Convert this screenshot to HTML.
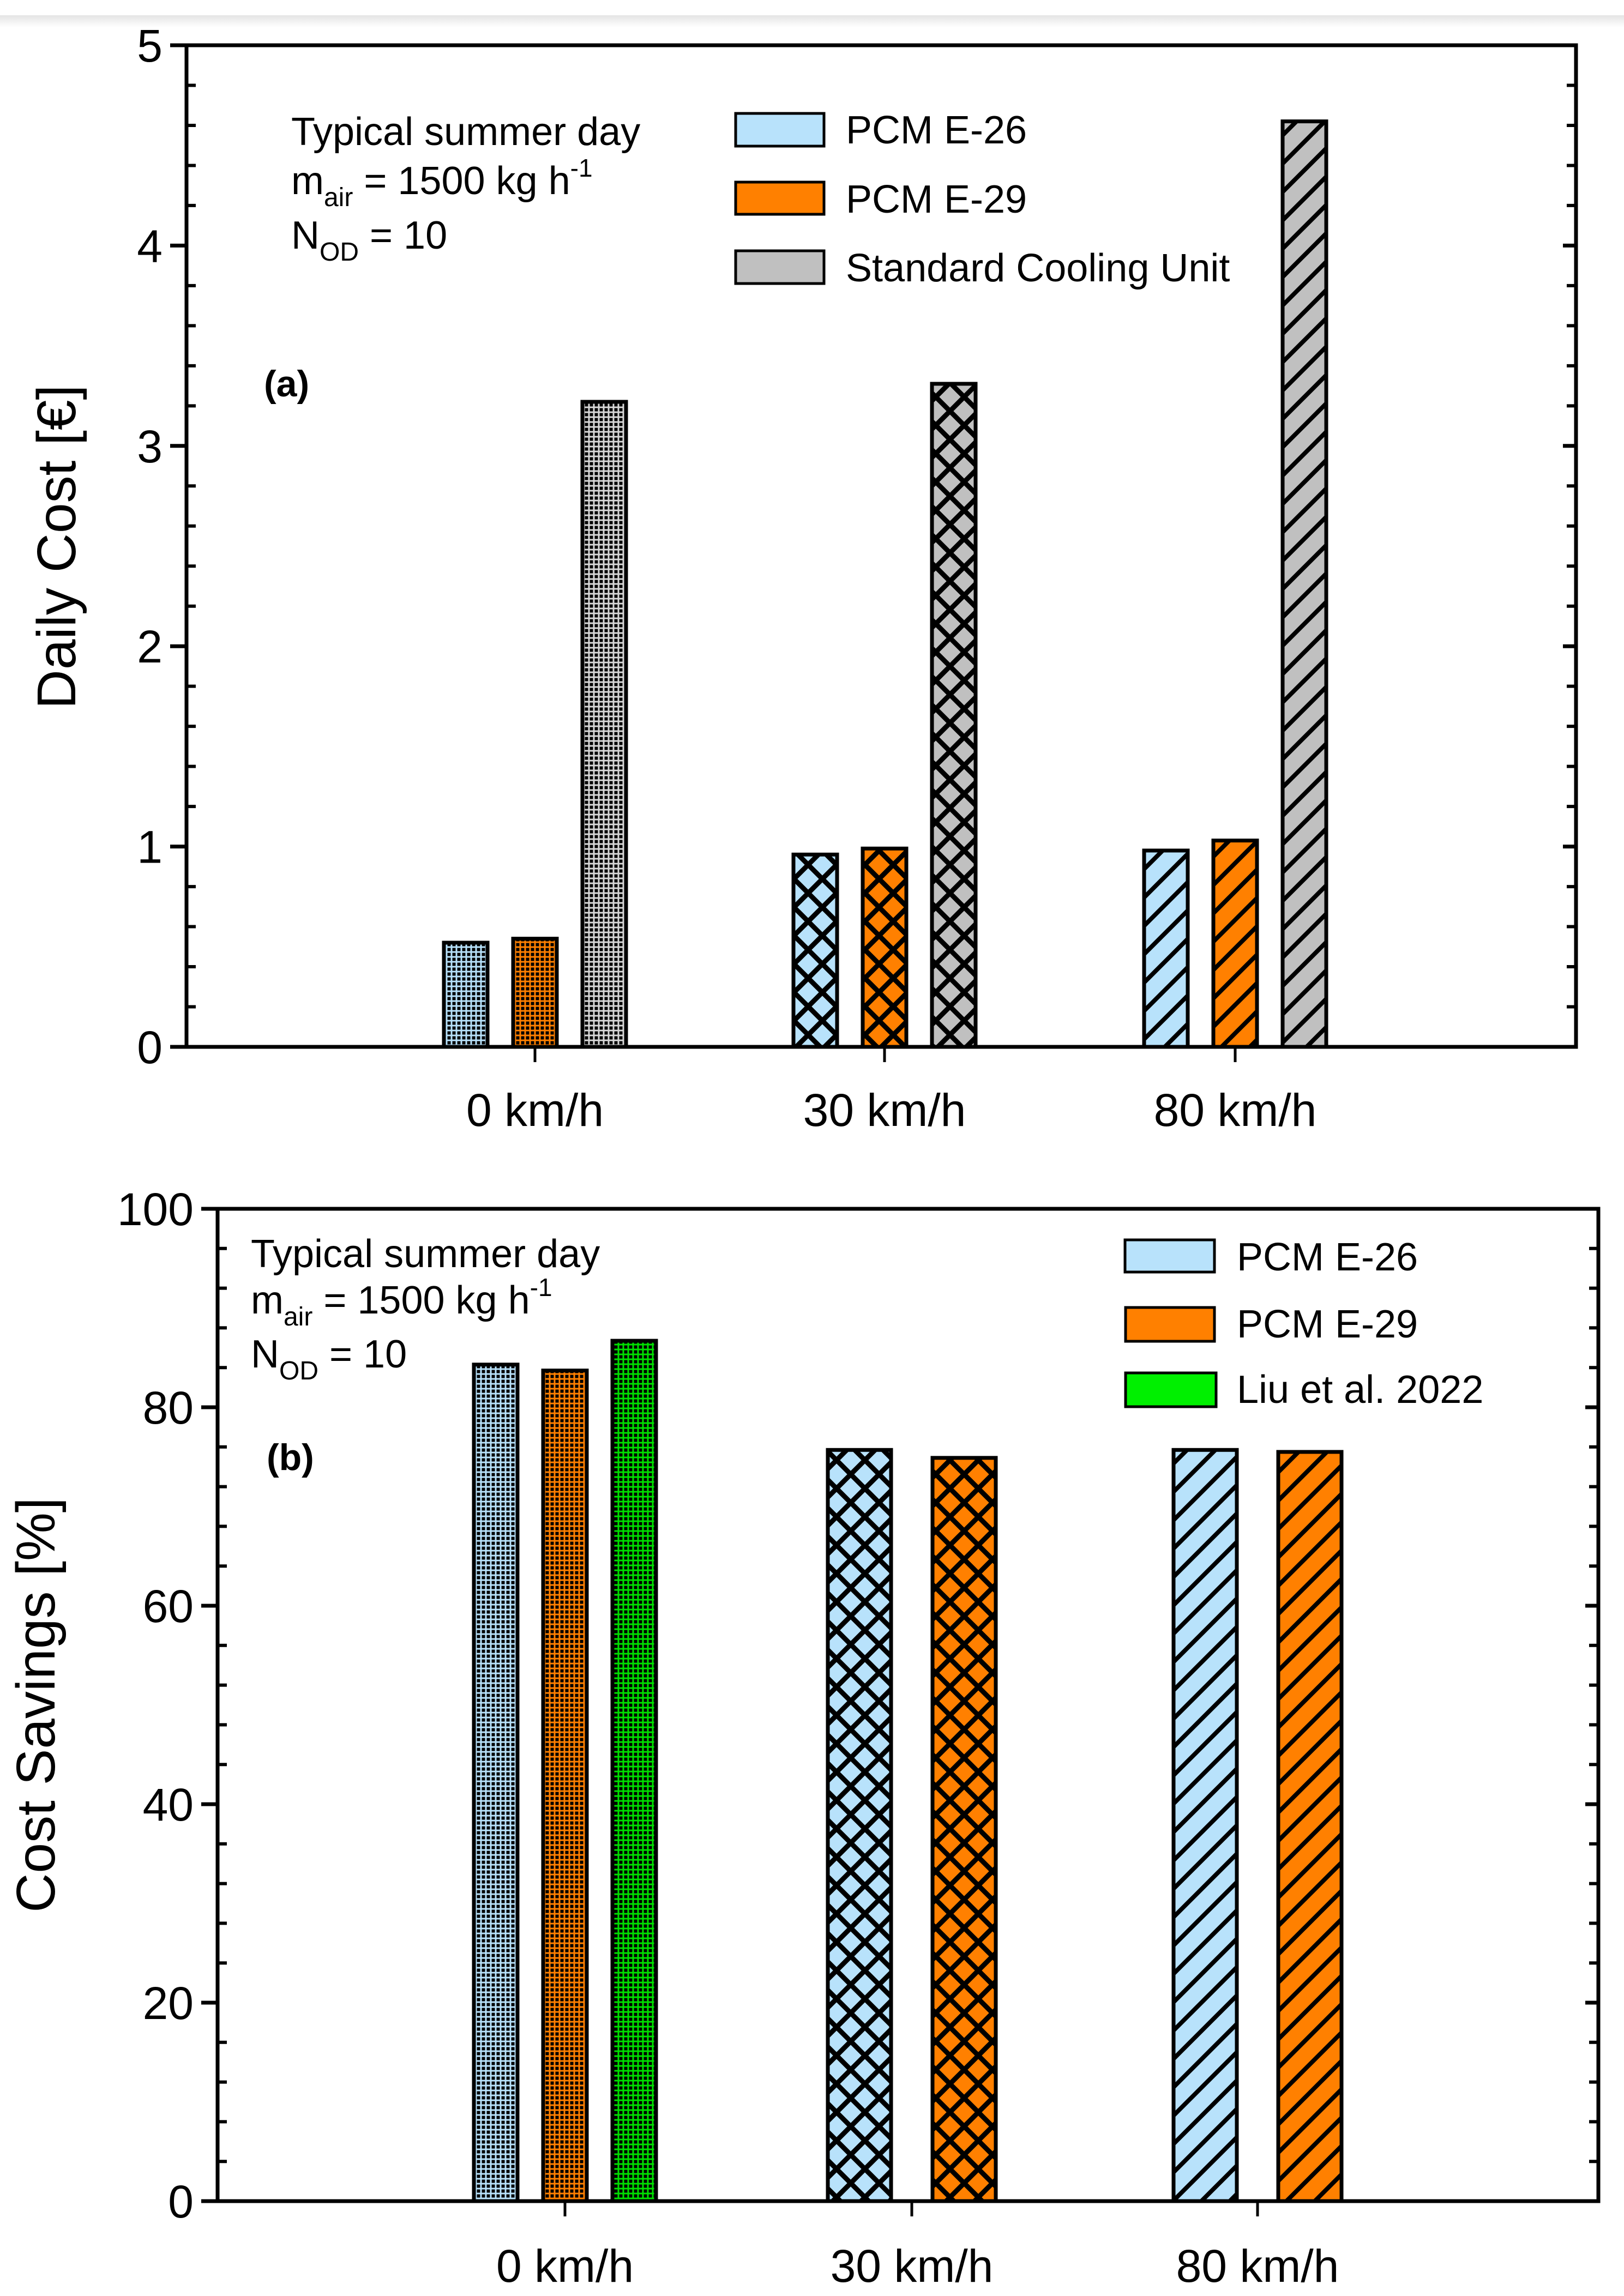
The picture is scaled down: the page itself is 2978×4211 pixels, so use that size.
<!DOCTYPE html>
<html><head><meta charset="utf-8">
<style>
html,body{margin:0;padding:0;background:#fff;}
#wrap{position:relative;width:2978px;height:4211px;overflow:hidden;background:#fff;}
#shade{position:absolute;left:0;top:28px;width:2978px;height:22px;background:linear-gradient(#e4e4e4,#fff);}
svg{position:absolute;left:0;top:0;}
text{font-family:"Liberation Sans",Arial,sans-serif;fill:#000;}
</style></head>
<body>
<div id="wrap">
<div id="shade"></div>
<svg id="fig" width="2978" height="4211" viewBox="0 0 2978 4211">
<defs>
<pattern id="dots-blue" width="9" height="9" patternUnits="userSpaceOnUse"><rect width="9" height="9" fill="#b8e2fb"/><rect x="1.5" y="1.5" width="6" height="6" fill="#000"/></pattern>
<pattern id="dots-orange" width="9" height="9" patternUnits="userSpaceOnUse"><rect width="9" height="9" fill="#ff8000"/><rect x="1.5" y="1.5" width="6" height="6" fill="#000"/></pattern>
<pattern id="dots-gray" width="9" height="9" patternUnits="userSpaceOnUse"><rect width="9" height="9" fill="#d8d8d8"/><rect x="1.5" y="1.5" width="6" height="6" fill="#000"/></pattern>
<pattern id="dots-green" width="9" height="9" patternUnits="userSpaceOnUse"><rect width="9" height="9" fill="#00e000"/><rect x="1.5" y="1.5" width="6" height="6" fill="#000"/></pattern>
<pattern id="cross-blue" width="52" height="52" patternUnits="userSpaceOnUse"><rect width="52" height="52" fill="#b8e2fb"/><path d="M0 0L52 52M0 52L52 0" stroke="#000" stroke-width="9"/></pattern>
<pattern id="cross-orange" width="52" height="52" patternUnits="userSpaceOnUse"><rect width="52" height="52" fill="#ff8000"/><path d="M0 0L52 52M0 52L52 0" stroke="#000" stroke-width="9"/></pattern>
<pattern id="cross-gray" width="52" height="52" patternUnits="userSpaceOnUse"><rect width="52" height="52" fill="#c0c0c0"/><path d="M0 0L52 52M0 52L52 0" stroke="#000" stroke-width="9"/></pattern>
<pattern id="diag-blue" width="52" height="52" patternUnits="userSpaceOnUse"><rect width="52" height="52" fill="#b8e2fb"/><path d="M-6 58L58 -6M-6 6L6 -6M46 58L58 46" stroke="#000" stroke-width="8"/></pattern>
<pattern id="diag-orange" width="52" height="52" patternUnits="userSpaceOnUse"><rect width="52" height="52" fill="#ff8000"/><path d="M-6 58L58 -6M-6 6L6 -6M46 58L58 46" stroke="#000" stroke-width="8"/></pattern>
<pattern id="diag-gray" width="52" height="52" patternUnits="userSpaceOnUse"><rect width="52" height="52" fill="#c0c0c0"/><path d="M-6 58L58 -6M-6 6L6 -6M46 58L58 46" stroke="#000" stroke-width="8"/></pattern>
</defs>

<g>
<text x="534" y="266" font-size="72">Typical summer day</text>
<text x="534" y="356" font-size="72">m<tspan font-size="48" dy="22">air</tspan><tspan dy="-22"> = 1500 kg h</tspan><tspan font-size="46" dy="-32">-1</tspan></text>
<text x="534" y="456" font-size="72">N<tspan font-size="48" dy="22">OD</tspan><tspan dy="-22"> = 10</tspan></text>
</g>
<text x="484" y="727" font-size="68" font-weight="bold">(a)</text>
<g>
<g><rect x="1349" y="208" width="162" height="60" fill="#b8e2fb" stroke="#000" stroke-width="5"/><text x="1551" y="263" font-size="72">PCM E-26</text></g>
<g><rect x="1349" y="334" width="162" height="59" fill="#ff8000" stroke="#000" stroke-width="5"/><text x="1551" y="390" font-size="72">PCM E-29</text></g>
<g><rect x="1349" y="460" width="162" height="60" fill="#c0c0c0" stroke="#000" stroke-width="5"/><text x="1551" y="516" font-size="72">Standard Cooling Unit</text></g>
</g>
<text transform="translate(138,1003) rotate(-90)" text-anchor="middle" font-size="100">Daily Cost [€]</text>

<g>
<text x="460" y="2324" font-size="72">Typical summer day</text>
<text x="460" y="2409" font-size="72">m<tspan font-size="48" dy="22">air</tspan><tspan dy="-22"> = 1500 kg h</tspan><tspan font-size="46" dy="-32">-1</tspan></text>
<text x="460" y="2508" font-size="72">N<tspan font-size="48" dy="22">OD</tspan><tspan dy="-22"> = 10</tspan></text>
</g>
<text x="489" y="2696" font-size="68" font-weight="bold">(b)</text>
<g>
<g><rect x="2063" y="2274" width="164" height="59" fill="#b8e2fb" stroke="#000" stroke-width="5"/><text x="2268" y="2330" font-size="72">PCM E-26</text></g>
<g><rect x="2064" y="2398" width="163" height="62" fill="#ff8000" stroke="#000" stroke-width="5"/><text x="2268" y="2453" font-size="72">PCM E-29</text></g>
<g><rect x="2064" y="2518" width="166" height="62" fill="#00f000" stroke="#000" stroke-width="5"/><text x="2268" y="2573" font-size="72">Liu et al. 2022</text></g>
</g>
<text transform="translate(100,3127) rotate(-90)" text-anchor="middle" font-size="100">Cost Savings [%]</text>
<g id="plots"></g>
</svg>
</div>
<script>
// ---- Panel (a) data ----
const catsA = ["0 km/h", "30 km/h", "80 km/h"];
const e26CostA = [0.52, 0.96, 0.98];
const e29CostA = [0.54, 0.99, 1.03];
const stdCostA = [3.22, 3.31, 4.62];
const yTicksA = [0, 1, 2, 3, 4, 5];
// ---- Panel (b) data ----
const catsB = ["0 km/h", "30 km/h", "80 km/h"];
const e26SaveB = [84.3, 75.7, 75.7];
const e29SaveB = [83.7, 74.9, 75.5];
const liuSaveB = [86.7, null, null];
const yTicksB = [0, 20, 40, 60, 80, 100];

const NS = "http://www.w3.org/2000/svg";
const plots = document.getElementById("plots");
function mk(tag, attrs, parent) {
  const e = document.createElementNS(NS, tag);
  for (const k in attrs) e.setAttribute(k, attrs[k]);
  (parent || plots).appendChild(e);
  return e;
}
const pats = ["dots", "cross", "diag"];

function panel(cfg) {
  const g = mk("g", {});
  
  
  const yS = v => cfg.y0 - (v - cfg.min) / (cfg.max - cfg.min) * (cfg.y0 - cfg.y1);
  cfg.series.forEach((s, si) => {
    s.vals.forEach((v, ci) => {
      if (v === null) return;
      const n = cfg.series.filter(t => t.vals[ci] !== null).length;
      const w = n === 3 ? 80 : 116;
      const off = n === 3 ? (si - 1) * 127 : (si === 0 ? -96 : 96);
      const cx = cfg.cx[ci] + off;
      const r = mk("rect", {x: cx - w / 2, y: yS(v), width: w, height: cfg.y0 - yS(v),
        fill: "url(#" + pats[ci] + "-" + s.color + ")", stroke: "#000", "stroke-width": 7}, g);
      
      
    });
  });
  const fr = mk("rect", {x: cfg.x0, y: cfg.y1, width: cfg.x1 - cfg.x0, height: cfg.y0 - cfg.y1, fill: "none", stroke: "#000", "stroke-width": 7}, g);
  
  
  const step = cfg.ticks[1] - cfg.ticks[0];
  for (let i = 0; i < cfg.ticks.length; i++) {
    const t = cfg.ticks[i];
    const y = yS(t);
    mk("line", {x1: cfg.x0 - 30, y1: y, x2: cfg.x0, y2: y, stroke: "#000", "stroke-width": 7}, g);
    mk("line", {x1: cfg.x1 - 24, y1: y, x2: cfg.x1, y2: y, stroke: "#000", "stroke-width": 7}, g);
    const lab = mk("text", {x: cfg.x0 - 44, y: y + 30, "text-anchor": "end", "font-size": 84}, g);
    lab.textContent = t;
    
    
    if (i < cfg.ticks.length - 1) {
      for (let m = 1; m < 5; m++) {
        const ym = yS(t + step * m / 5);
        mk("line", {x1: cfg.x0, y1: ym, x2: cfg.x0 + 17, y2: ym, stroke: "#000", "stroke-width": 6}, g);
        mk("line", {x1: cfg.x1 - 17, y1: ym, x2: cfg.x1, y2: ym, stroke: "#000", "stroke-width": 6}, g);
      }
    }
  }
  cfg.cats.forEach((c, ci) => {
    mk("line", {x1: cfg.cx[ci], y1: cfg.y0, x2: cfg.cx[ci], y2: cfg.y0 + 28, stroke: "#000", "stroke-width": 5}, g);
    const l = mk("text", {x: cfg.cx[ci], y: cfg.labY, "text-anchor": "middle", "font-size": 84}, g);
    l.textContent = c;
    
    
  });
}

panel({name: "panel-a-daily-cost", x0: 342, x1: 2890, y1: 83, y0: 1920, min: 0, max: 5,
  ticks: yTicksA, cats: catsA, cx: [981, 1622, 2265], labY: 2065,
  series: [{key: "e26", color: "blue", vals: e26CostA},
           {key: "e29", color: "orange", vals: e29CostA},
           {key: "standard", color: "gray", vals: stdCostA}]});
panel({name: "panel-b-cost-savings", x0: 399, x1: 2931, y1: 2217, y0: 4037, min: 0, max: 100,
  ticks: yTicksB, cats: catsB, cx: [1036, 1672, 2306], labY: 4185,
  series: [{key: "e26", color: "blue", vals: e26SaveB},
           {key: "e29", color: "orange", vals: e29SaveB},
           {key: "liu", color: "green", vals: liuSaveB}]});
</script>
</body></html>
